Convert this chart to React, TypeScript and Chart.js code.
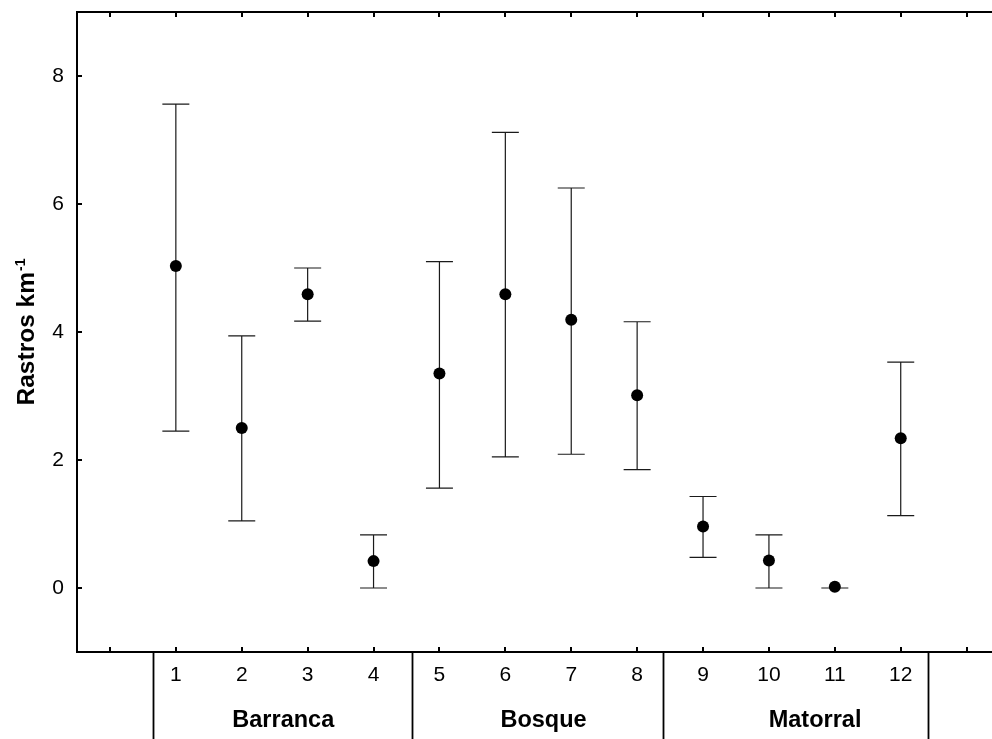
import React, { useEffect, useRef } from "react";
import { Chart, registerables } from "chart.js";

Chart.register(...registerables);

const categories = [1, 2, 3, 4, 5, 6, 7, 8, 9, 10, 11, 12];
const means = [5.03, 2.5, 4.59, 0.42, 3.35, 4.59, 4.19, 3.01, 0.96, 0.43, 0.02, 2.34];
const upperVals = [7.56, 3.94, 5.0, 0.83, 5.1, 7.12, 6.25, 4.16, 1.43, 0.83, 0.0, 3.53];
const lowerVals = [2.45, 1.05, 4.17, 0.0, 1.56, 2.05, 2.09, 1.85, 0.48, 0.0, 0.0, 1.13];
const xTickValues = [0, 1, 2, 3, 4, 5, 6, 7, 8, 9, 10, 11, 12, 13];
const yTickValues = [0, 2, 4, 6, 8];
const groupNames = ["Barranca", "Bosque", "Matorral"];
const groupCenters = [2.63, 6.58, 10.7];
const groupSeparators = [0.66, 4.59, 8.39, 12.41];

const FONT = "'Liberation Sans', Arial, sans-serif";

const decorPlugin = {
  id: "decor",
  beforeDatasetsDraw(chart: any) {
    const { ctx } = chart;
    const xs = chart.scales.x;
    const ys = chart.scales.y;
    ctx.save();
    ctx.strokeStyle = "#1a1a1a";
    ctx.lineWidth = 1.2;
    categories.forEach((c, i) => {
      const px = xs.getPixelForValue(c);
      const pu = ys.getPixelForValue(upperVals[i]);
      const pl = ys.getPixelForValue(lowerVals[i]);
      ctx.beginPath();
      ctx.moveTo(px, pu);
      ctx.lineTo(px, pl);
      ctx.moveTo(px - 13.5, pu);
      ctx.lineTo(px + 13.5, pu);
      ctx.moveTo(px - 13.5, pl);
      ctx.lineTo(px + 13.5, pl);
      ctx.stroke();
    });
    ctx.restore();
  },
  afterDraw(chart: any) {
    const { ctx, chartArea } = chart;
    const xs = chart.scales.x;
    const ys = chart.scales.y;
    ctx.save();
    ctx.strokeStyle = "#000";
    ctx.lineWidth = 2;
    // top frame line
    ctx.beginPath();
    ctx.moveTo(chartArea.left, chartArea.top);
    ctx.lineTo(chart.width, chartArea.top);
    ctx.stroke();
    // inner ticks
    ctx.beginPath();
    xs.ticks.forEach((t: any) => {
      const px = Math.round(xs.getPixelForValue(t.value));
      ctx.moveTo(px, chartArea.bottom);
      ctx.lineTo(px, chartArea.bottom - 5);
      ctx.moveTo(px, chartArea.top);
      ctx.lineTo(px, chartArea.top + 5);
    });
    ys.ticks.forEach((t: any) => {
      const py = Math.round(ys.getPixelForValue(t.value));
      ctx.moveTo(chartArea.left, py);
      ctx.lineTo(chartArea.left + 5, py);
    });
    ctx.stroke();
    // group separators
    ctx.beginPath();
    groupSeparators.forEach((v) => {
      const px = Math.round(xs.getPixelForValue(v)) + 0.5;
      ctx.moveTo(px, chartArea.bottom);
      ctx.lineTo(px, chart.height);
    });
    ctx.lineWidth = 1.8;
    ctx.stroke();
    // group labels
    ctx.fillStyle = "#000";
    ctx.font = `bold 23.5px ${FONT}`;
    ctx.textAlign = "center";
    ctx.textBaseline = "alphabetic";
    groupNames.forEach((g, i) => {
      ctx.fillText(g, xs.getPixelForValue(groupCenters[i]), 727);
    });
    // y axis title with superscript
    const main = "Rastros km";
    const sup = "-1";
    ctx.font = `bold 24.5px ${FONT}`;
    const wMain = ctx.measureText(main).width;
    ctx.font = `bold 14px ${FONT}`;
    const wSup = ctx.measureText(sup).width;
    const total = wMain + wSup + 1;
    const cy = (chartArea.top + chartArea.bottom) / 2;
    ctx.translate(34, cy);
    ctx.rotate(-Math.PI / 2);
    ctx.textAlign = "left";
    ctx.font = `bold 24.5px ${FONT}`;
    ctx.fillText(main, -total / 2, 0);
    ctx.font = `bold 14px ${FONT}`;
    ctx.fillText(sup, -total / 2 + wMain + 1, -9);
    ctx.restore();
  },
};

export default function App() {
  const ref = useRef<HTMLCanvasElement>(null);
  useEffect(() => {
    if (!ref.current) return;
    const chart = new Chart(ref.current, {
      type: "scatter",
      data: {
        datasets: [
          {
            data: categories.map((c, i) => ({ x: c, y: means[i] })),
            pointRadius: 6,
            pointHoverRadius: 6,
            pointBackgroundColor: "#000",
            pointBorderColor: "#000",
            pointBorderWidth: 0,
            showLine: false,
          },
        ],
      },
      options: {
        animation: false,
        responsive: false,
        devicePixelRatio: 1,
        layout: { autoPadding: false, padding: { top: 12, right: 0, left: 0, bottom: 0 } },
        plugins: {
          legend: { display: false },
          tooltip: { enabled: false },
          title: { display: false },
        },
        scales: {
          x: {
            type: "linear",
            min: -0.5,
            max: 13.385,
            afterBuildTicks: (s: any) => {
              s.ticks = xTickValues.map((v) => ({ value: v }));
            },
            afterFit: (s: any) => {
              s.height = 87;
              s.paddingLeft = 0;
              s.paddingRight = 0;
            },
            grid: { display: false, drawTicks: false },
            border: { display: true, color: "#000", width: 2 },
            ticks: {
              padding: 11,
              color: "#000",
              font: { family: FONT, size: 21 },
              maxRotation: 0,
              autoSkip: false,
              callback: (v: any) => (v >= 1 && v <= 12 ? String(v) : ""),
            },
          },
          y: {
            type: "linear",
            min: -1,
            max: 9,
            afterBuildTicks: (s: any) => {
              s.ticks = yTickValues.map((v) => ({ value: v }));
            },
            afterFit: (s: any) => {
              s.width = 77;
              s.paddingTop = 0;
              s.paddingBottom = 0;
            },
            grid: { display: false, drawTicks: false },
            border: { display: true, color: "#000", width: 2 },
            ticks: {
              padding: 13,
              color: "#000",
              font: { family: FONT, size: 21 },
              autoSkip: false,
            },
          },
        },
      },
      plugins: [decorPlugin],
    });
    return () => chart.destroy();
  }, []);
  return (
    <div style={{ position: "absolute", left: 0, top: 0, width: 992, height: 739, background: "#fff" }}>
      <canvas ref={ref} width={992} height={739} style={{ display: "block" }} />
    </div>
  );
}
